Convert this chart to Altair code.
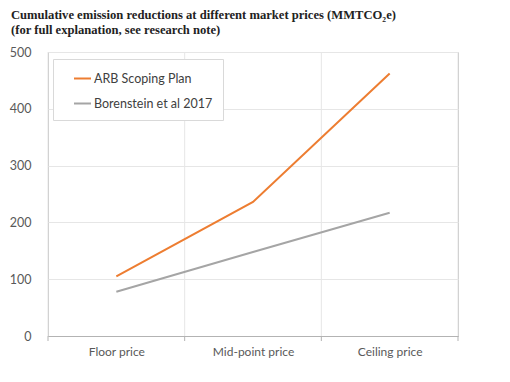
import altair as alt
import pandas as pd

categories = ["Floor price", "Mid-point price", "Ceiling price"]
series_names = ["ARB Scoping Plan", "Borenstein et al 2017"]
arb_values = [105, 236, 462]
borenstein_values = [78, 148, 217]
y_ticks = [0, 100, 200, 300, 400, 500]
colors = ["#ED7D31", "#A5A5A5"]
title_lines = [
    "Cumulative emission reductions at different market prices (MMTCO\u2082e)",
    "(for full explanation, see research note)",
]

rows = []
for i, c in enumerate(categories):
    rows.append({"cat": c, "pos": i + 0.5, "series": series_names[0], "value": arb_values[i]})
    rows.append({"cat": c, "pos": i + 0.5, "series": series_names[1], "value": borenstein_values[i]})
df = pd.DataFrame(rows)
bounds = pd.DataFrame({"b": list(range(len(categories) + 1))})

W, H = 410, 284
n = len(categories)
label_expr = ""
for i, c in enumerate(categories[:-1]):
    label_expr += f"datum.value < {i + 1} ? '{c}' : "
label_expr += f"'{categories[-1]}'"

xscale = alt.Scale(domain=[0, n], nice=False, zero=False)
font = "Lato"

x_axis = alt.Axis(
    values=[i + 0.5 for i in range(n)],
    labelExpr=label_expr,
    title=None,
    grid=False,
    ticks=False,
    domain=True,
    domainColor="#b3b3b3",
    labelPadding=10,
    labelFont=font,
    labelFontSize=12,
    labelColor="#595959",
)

grid = alt.Chart(bounds).mark_rule(color="#e6e6e6", strokeWidth=1).encode(
    x=alt.X("b:Q", scale=xscale, axis=x_axis),
    y=alt.value(0),
    y2=alt.value(H),
)

lines = alt.Chart(df).mark_line(strokeWidth=2).encode(
    x=alt.X("pos:Q", scale=xscale, axis=x_axis),
    y=alt.Y(
        "value:Q",
        scale=alt.Scale(domain=[0, 500], nice=False),
        axis=alt.Axis(
            values=y_ticks,
            title=None,
            grid=True,
            gridColor="#e6e6e6",
            ticks=False,
            domain=False,
            labelPadding=17,
            labelFont=font,
            labelFontSize=12.5,
            labelColor="#595959",
        ),
    ),
    color=alt.Color(
        "series:N",
        scale=alt.Scale(domain=series_names, range=colors),
        legend=alt.Legend(
            title=None,
            orient="none",
            legendX=5,
            legendY=7,
            strokeColor="#d9d9d9",
            fillColor="white",
            padding=10,
            symbolType="stroke",
            symbolStrokeWidth=2,
            symbolSize=289,
            symbolOffset=10,
            labelFont=font,
            labelFontSize=12.5,
            labelColor="#404040",
            rowPadding=9,
            labelOffset=2,
        ),
    ),
)

ticks = alt.Chart(bounds).mark_rule(color="#b3b3b3", strokeWidth=1).encode(
    x=alt.X("b:Q", scale=xscale, axis=x_axis),
    y=alt.value(H),
    y2=alt.value(H + 5),
)

chart = (
    alt.layer(grid, lines, ticks)
    .properties(
        width=W,
        height=H,
        autosize=alt.AutoSizeParams(type="none"),
        padding={"left": 40, "top": 44, "right": 44, "bottom": 38},
        title=alt.TitleParams(
            text=title_lines,
            anchor="start",
            frame="group",
            dx=-37,
            offset=9,
            font="Liberation Serif",
            fontSize=12.6,
            fontWeight="bold",
            color="#222222",
            lineHeight=15,
        ),
    )
    .configure_view(stroke="#bfbfbf", strokeWidth=1)
)

chart.save("out.html", embed_options={"renderer": "svg", "actions": False})
